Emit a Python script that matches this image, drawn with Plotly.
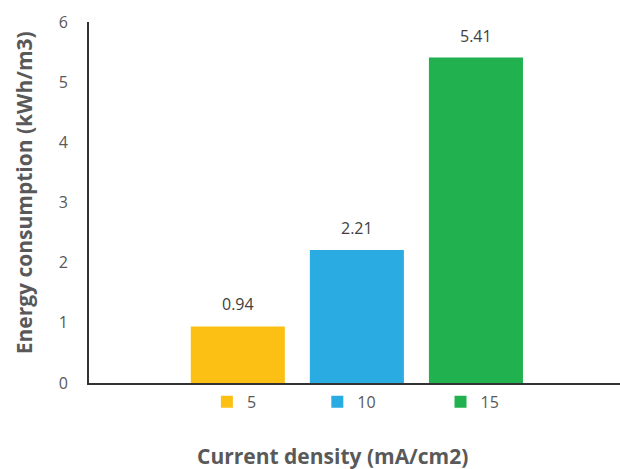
import plotly.graph_objects as go

# Energy consumption per current density
categories = ["5", "10", "15"]
energy = [0.94, 2.21, 5.41]
colors = ["#FCC014", "#2AACE2", "#21B24F"]
y_ticks = [0, 1, 2, 3, 4, 5, 6]

FONT = "Open Sans"
GREY = "#595959"

fig = go.Figure()
legend_ids = ["legend", "legend2", "legend3"]
for idx, (cat, val, col, lg) in enumerate(zip(categories, energy, colors, legend_ids)):
    fig.add_trace(go.Bar(
        x=[cat], y=[val], name=cat, marker=dict(color=col, line=dict(width=0)),
        width=0.79, legend=lg, hoverinfo="skip",
    ))
    # value label above each bar (category index on the x axis)
    fig.add_annotation(
        x=idx, y=val, text=f"{val:.2f}", showarrow=False, yanchor="middle",
        yshift=22, font=dict(family=FONT, size=16, color="#404040"),
    )

# per-item legends placed beneath the axis
legend_x = [0.222, 0.43, 0.662]
legend_cfg = {}
for lg, lx in zip(legend_ids, legend_x):
    legend_cfg[lg] = dict(
        x=lx, y=-0.052, xanchor="left", yanchor="middle", orientation="h",
        font=dict(family=FONT, size=16, color=GREY), bgcolor="rgba(0,0,0,0)",
        itemwidth=30,
    )

fig.update_layout(
    width=620, height=469,
    margin=dict(l=89, r=0, t=22, b=86),
    paper_bgcolor="white", plot_bgcolor="white",
    barmode="overlay",
    showlegend=True,
    xaxis=dict(
        type="category", range=[-1.25, 3.21], showticklabels=False,
        showgrid=False, zeroline=False, showline=True, linecolor="#333333",
        linewidth=2, ticks="",
    ),
    yaxis=dict(
        range=[0, 6], tickvals=y_ticks, showgrid=False, zeroline=False,
        showline=True, linecolor="#333333", linewidth=2, ticks="",
        ticklabelstandoff=16,
        tickfont=dict(family=FONT, size=16, color=GREY),
    ),
    **legend_cfg,
)

fig.add_annotation(
    text="<b>Energy consumption (kWh/m3)</b>", xref="paper", yref="paper",
    x=-0.122, y=0.526, textangle=-90, showarrow=False,
    xanchor="center", yanchor="middle",
    font=dict(family=FONT, size=21, color=GREY),
)
fig.add_annotation(
    text="<b>Current density (mA/cm2)</b>", xref="paper", yref="paper",
    x=0.4595, y=-0.202, showarrow=False, xanchor="center", yanchor="middle",
    font=dict(family=FONT, size=21, color=GREY),
)

fig.write_html("out.html")
